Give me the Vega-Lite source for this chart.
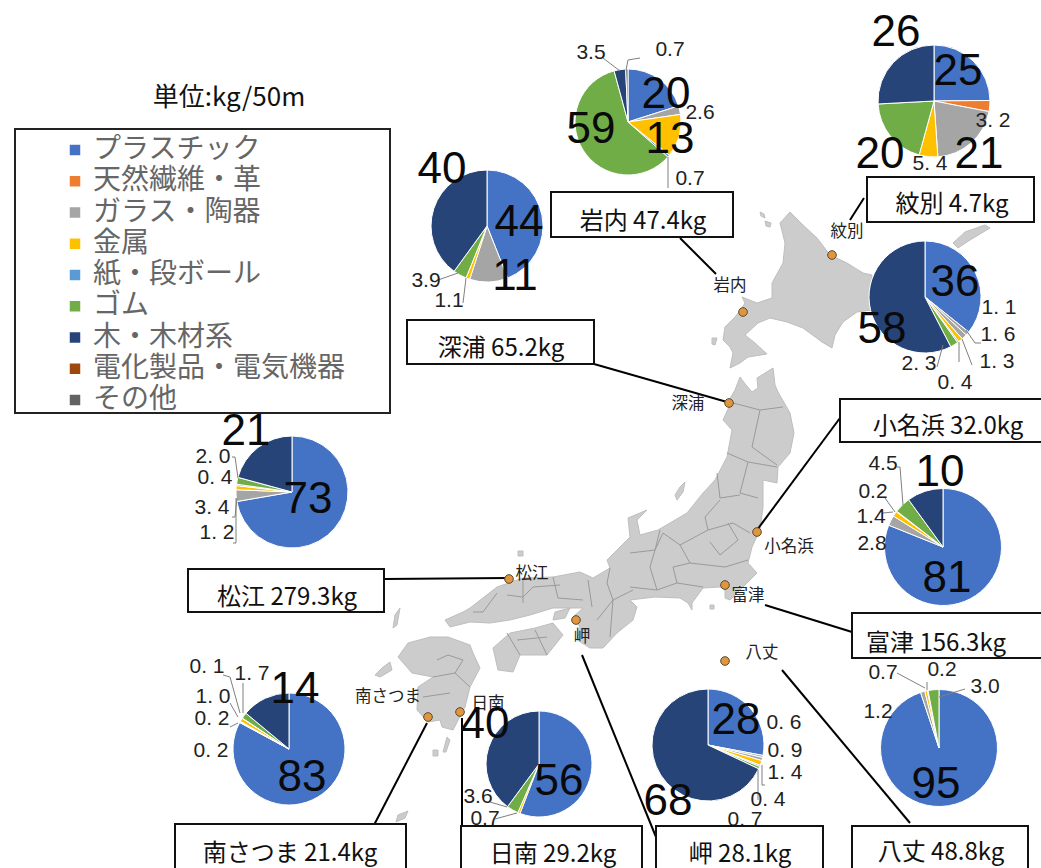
{
"$schema":"https://vega.github.io/schema/vega-lite/v6.json",
"width":1041,"height":868,"padding":0,"autosize":{"type":"none"},"background":"white",
"config":{"view":{"stroke":null},"font":"Noto Sans CJK JP"},
"datasets":{
"sites":[
{"site":"紋別","kg":4.7,"mapX":934,"mapY":101},
{"site":"岩内","kg":47.4,"mapX":628,"mapY":122},
{"site":"深浦","kg":65.2,"mapX":487,"mapY":226},
{"site":"小名浜","kg":32.0,"mapX":925,"mapY":297},
{"site":"富津","kg":156.3,"mapX":943,"mapY":547},
{"site":"松江","kg":279.3,"mapX":292,"mapY":492},
{"site":"南さつま","kg":21.4,"mapX":289,"mapY":749},
{"site":"日南","kg":29.2,"mapX":539,"mapY":764},
{"site":"岬","kg":28.1,"mapX":708,"mapY":745},
{"site":"八丈","kg":48.8,"mapX":939,"mapY":748}
],
"slices":[
{"site":"紋別","cat":"プラスチック","o":1,"v":25},{"site":"紋別","cat":"天然繊維・革","o":2,"v":3.2},{"site":"紋別","cat":"ガラス・陶器","o":3,"v":21},{"site":"紋別","cat":"金属","o":4,"v":5.4},{"site":"紋別","cat":"ゴム","o":6,"v":20},{"site":"紋別","cat":"木・木材系","o":7,"v":26},
{"site":"岩内","cat":"プラスチック","o":1,"v":20},{"site":"岩内","cat":"ガラス・陶器","o":3,"v":2.6},{"site":"岩内","cat":"金属","o":4,"v":13},{"site":"岩内","cat":"紙・段ボール","o":5,"v":0.7},{"site":"岩内","cat":"ゴム","o":6,"v":59},{"site":"岩内","cat":"木・木材系","o":7,"v":3.5},{"site":"岩内","cat":"その他","o":9,"v":0.7},
{"site":"深浦","cat":"プラスチック","o":1,"v":44},{"site":"深浦","cat":"ガラス・陶器","o":3,"v":11},{"site":"深浦","cat":"金属","o":4,"v":1.1},{"site":"深浦","cat":"ゴム","o":6,"v":3.9},{"site":"深浦","cat":"木・木材系","o":7,"v":40},
{"site":"小名浜","cat":"プラスチック","o":1,"v":36},{"site":"小名浜","cat":"ガラス・陶器","o":2,"v":1.1},{"site":"小名浜","cat":"ガラス・陶器","o":3,"v":1.6},{"site":"小名浜","cat":"金属","o":4,"v":1.3},{"site":"小名浜","cat":"紙・段ボール","o":5,"v":0.4},{"site":"小名浜","cat":"ゴム","o":6,"v":2.3},{"site":"小名浜","cat":"木・木材系","o":7,"v":58},
{"site":"富津","cat":"プラスチック","o":1,"v":81},{"site":"富津","cat":"ガラス・陶器","o":3,"v":2.8},{"site":"富津","cat":"金属","o":4,"v":1.4},{"site":"富津","cat":"紙・段ボール","o":5,"v":0.2},{"site":"富津","cat":"ゴム","o":6,"v":4.5},{"site":"富津","cat":"木・木材系","o":7,"v":10},
{"site":"松江","cat":"プラスチック","o":1,"v":73},{"site":"松江","cat":"ガラス・陶器","o":3,"v":3.4},{"site":"松江","cat":"金属","o":4,"v":1.2},{"site":"松江","cat":"紙・段ボール","o":5,"v":0.4},{"site":"松江","cat":"ゴム","o":6,"v":2.0},{"site":"松江","cat":"木・木材系","o":7,"v":21},
{"site":"南さつま","cat":"プラスチック","o":1,"v":83},{"site":"南さつま","cat":"ガラス・陶器","o":2,"v":0.2},{"site":"南さつま","cat":"ガラス・陶器","o":3,"v":0.2},{"site":"南さつま","cat":"金属","o":4,"v":1.0},{"site":"南さつま","cat":"紙・段ボール","o":5,"v":0.1},{"site":"南さつま","cat":"ゴム","o":6,"v":1.7},{"site":"南さつま","cat":"木・木材系","o":7,"v":14},
{"site":"日南","cat":"プラスチック","o":1,"v":56},{"site":"日南","cat":"金属","o":4,"v":0.7},{"site":"日南","cat":"ゴム","o":6,"v":3.6},{"site":"日南","cat":"木・木材系","o":7,"v":40},
{"site":"岬","cat":"プラスチック","o":1,"v":28},{"site":"岬","cat":"ガラス・陶器","o":2,"v":0.6},{"site":"岬","cat":"ガラス・陶器","o":3,"v":0.9},{"site":"岬","cat":"金属","o":4,"v":1.4},{"site":"岬","cat":"紙・段ボール","o":5,"v":0.4},{"site":"岬","cat":"ゴム","o":6,"v":0.7},{"site":"岬","cat":"木・木材系","o":7,"v":68},
{"site":"八丈","cat":"プラスチック","o":1,"v":95},{"site":"八丈","cat":"ガラス・陶器","o":3,"v":1.2},{"site":"八丈","cat":"金属","o":4,"v":0.7},{"site":"八丈","cat":"紙・段ボール","o":5,"v":0.2},{"site":"八丈","cat":"ゴム","o":6,"v":3.0}
],
"bigLabels":[
{"t":"26","mapX":896,"mapY":33},{"t":"25","mapX":958,"mapY":72},{"t":"21","mapX":979,"mapY":155},{"t":"20","mapX":880,"mapY":155},
{"t":"20","mapX":666,"mapY":95},{"t":"13","mapX":670,"mapY":140},{"t":"59","mapX":591,"mapY":130},
{"t":"40","mapX":442,"mapY":170},{"t":"44","mapX":519,"mapY":223},{"t":"11","mapX":515,"mapY":277},
{"t":"36","mapX":955,"mapY":283},{"t":"58","mapX":882,"mapY":330},
{"t":"10","mapX":940,"mapY":473},{"t":"81","mapX":947,"mapY":579},
{"t":"95","mapX":936,"mapY":785},
{"t":"28","mapX":736,"mapY":721},{"t":"68","mapX":668,"mapY":802},
{"t":"40","mapX":485,"mapY":725},{"t":"56","mapX":559,"mapY":782},
{"t":"14","mapX":295,"mapY":690},{"t":"83","mapX":302,"mapY":778},
{"t":"21","mapX":246,"mapY":432},{"t":"73","mapX":308,"mapY":500}
],
"smallLabels":[
{"t":"3. 2","mapX":993,"mapY":121},{"t":"5. 4","mapX":930,"mapY":164},
{"t":"3.5","mapX":591,"mapY":53},{"t":"0.7","mapX":670,"mapY":50},{"t":"2.6","mapX":700,"mapY":113},{"t":"0.7","mapX":690,"mapY":179},
{"t":"3.9","mapX":426,"mapY":281},{"t":"1.1","mapX":449,"mapY":301},
{"t":"1. 1","mapX":999,"mapY":308},{"t":"1. 6","mapX":998,"mapY":335},{"t":"1. 3","mapX":997,"mapY":362},{"t":"0. 4","mapX":955,"mapY":383},{"t":"2. 3","mapX":919,"mapY":364},
{"t":"4.5","mapX":883,"mapY":464},{"t":"0.2","mapX":873,"mapY":492},{"t":"1.4","mapX":871,"mapY":517},{"t":"2.8","mapX":872,"mapY":544},
{"t":"0.7","mapX":883,"mapY":673},{"t":"0.2","mapX":942,"mapY":670},{"t":"3.0","mapX":985,"mapY":687},{"t":"1.2","mapX":878,"mapY":712},
{"t":"0. 6","mapX":784,"mapY":723},{"t":"0. 9","mapX":785,"mapY":751},{"t":"1. 4","mapX":785,"mapY":773},{"t":"0. 4","mapX":768,"mapY":800},{"t":"0. 7","mapX":745,"mapY":820},
{"t":"3.6","mapX":478,"mapY":797},{"t":"0.7","mapX":485,"mapY":819},
{"t":"0. 1","mapX":207,"mapY":667},{"t":"1. 7","mapX":252,"mapY":674},{"t":"1. 0","mapX":213,"mapY":697},{"t":"0. 2","mapX":212,"mapY":719},{"t":"0. 2","mapX":211,"mapY":751},
{"t":"2. 0","mapX":213,"mapY":457},{"t":"0. 4","mapX":215,"mapY":478},{"t":"3. 4","mapX":212,"mapY":508},{"t":"1. 2","mapX":217,"mapY":533}
],
"boxes":[
{"t":"紋別 4.7kg","mapX":867,"mapY":177,"mapX2":1034,"mapY2":222,"tx":952,"ty":205},
{"t":"岩内 47.4kg","mapX":551,"mapY":192,"mapX2":733,"mapY2":237,"tx":643,"ty":222},
{"t":"深浦 65.2kg","mapX":407,"mapY":320,"mapX2":594,"mapY2":364,"tx":501,"ty":349},
{"t":"小名浜 32.0kg","mapX":840,"mapY":399,"mapX2":1045,"mapY2":442,"tx":948,"ty":427},
{"t":"富津 156.3kg","mapX":852,"mapY":613,"mapX2":1045,"mapY2":658,"tx":936,"ty":644},
{"t":"松江 279.3kg","mapX":188,"mapY":569,"mapX2":384,"mapY2":612,"tx":287,"ty":598},
{"t":"南さつま 21.4kg","mapX":175,"mapY":824,"mapX2":406,"mapY2":880,"tx":290,"ty":854},
{"t":"日南 29.2kg","mapX":461,"mapY":826,"mapX2":642,"mapY2":880,"tx":553,"ty":855},
{"t":"岬 28.1kg","mapX":656,"mapY":826,"mapX2":823,"mapY2":880,"tx":740,"ty":855},
{"t":"八丈 48.8kg","mapX":852,"mapY":826,"mapX2":1028,"mapY2":880,"tx":941,"ty":853}
],
"leaders":[
{"mapX":864,"mapY":198,"mapX2":850,"mapY2":220},{"mapX":680,"mapY":238,"mapX2":716,"mapY2":274},
{"mapX":594,"mapY":364,"mapX2":727,"mapY2":402},{"mapX":840,"mapY":418,"mapX2":757,"mapY2":530},
{"mapX":765,"mapY":605,"mapX2":852,"mapY2":632},{"mapX":384,"mapY":579,"mapX2":508,"mapY2":578},
{"mapX":582,"mapY":655,"mapX2":656,"mapY2":837},{"mapX":782,"mapY":670,"mapX2":910,"mapY2":823},
{"mapX":427,"mapY":723,"mapX2":373,"mapY2":827},{"mapX":462,"mapY":718,"mapX2":462,"mapY2":826}
],
"thin":[
{"mapX":966,"mapY":330,"mapX2":975,"mapY2":343},{"mapX":975,"mapY":343,"mapX2":981,"mapY2":343},
{"mapX":962,"mapY":339,"mapX2":972,"mapY2":365},{"mapX":959,"mapY":342,"mapX2":959,"mapY2":362},{"mapX":943,"mapY":345,"mapX2":937,"mapY2":367},
{"mapX":603,"mapY":58,"mapX2":620,"mapY2":71},{"mapX":626,"mapY":70,"mapX2":628,"mapY2":60},{"mapX":628,"mapY":60,"mapX2":640,"mapY2":58},{"mapX":668,"mapY":157,"mapX2":668,"mapY2":188},
{"mapX":438,"mapY":280,"mapX2":458,"mapY2":273},{"mapX":463,"mapY":303,"mapX2":466,"mapY2":278},
{"mapX":232,"mapY":457,"mapX2":235,"mapY2":457},{"mapX":235,"mapY":457,"mapX2":238,"mapY2":478},{"mapX":232,"mapY":517,"mapX2":235,"mapY2":517},{"mapX":235,"mapY":517,"mapX2":237,"mapY2":498},{"mapX":233,"mapY":543,"mapX2":236,"mapY2":543},{"mapX":236,"mapY":543,"mapX2":236,"mapY2":498},
{"mapX":897,"mapY":467,"mapX2":900,"mapY2":467},{"mapX":900,"mapY":467,"mapX2":903,"mapY2":505},{"mapX":885,"mapY":498,"mapX2":895,"mapY2":512},{"mapX":883,"mapY":513,"mapX2":893,"mapY2":512},
{"mapX":897,"mapY":673,"mapX2":925,"mapY2":688},{"mapX":927,"mapY":682,"mapX2":927,"mapY2":690},{"mapX":965,"mapY":689,"mapX2":939,"mapY2":697},
{"mapX":762,"mapY":765,"mapX2":762,"mapY2":785},{"mapX":762,"mapY":785,"mapX2":765,"mapY2":785},{"mapX":758,"mapY":770,"mapX2":758,"mapY2":800},
{"mapX":490,"mapY":802,"mapX2":507,"mapY2":807},{"mapX":495,"mapY":819,"mapX2":517,"mapY2":813},
{"mapX":223,"mapY":675,"mapX2":230,"mapY2":677},{"mapX":230,"mapY":677,"mapX2":240,"mapY2":713},{"mapX":243,"mapY":683,"mapX2":243,"mapY2":713},{"mapX":230,"mapY":703,"mapX2":238,"mapY2":717},{"mapX":230,"mapY":727,"mapX2":238,"mapY2":723}
],
"dots":[
{"t":"紋別","mapX":832,"mapY":255,"tx":847,"ty":232},{"t":"岩内","mapX":743,"mapY":312,"tx":730,"ty":286},
{"t":"深浦","mapX":729,"mapY":403,"tx":688,"ty":404},{"t":"小名浜","mapX":757,"mapY":532,"tx":789,"ty":547},
{"t":"富津","mapX":725,"mapY":585,"tx":748,"ty":596},{"t":"松江","mapX":509,"mapY":579,"tx":532,"ty":574},
{"t":"岬","mapX":576,"mapY":620,"tx":582,"ty":637},{"t":"八丈","mapX":725,"mapY":661,"tx":762,"ty":653},
{"t":"南さつま","mapX":428,"mapY":717,"tx":388,"ty":697},{"t":"日南","mapX":460,"mapY":712,"tx":488,"ty":704}
]
},
"layer":[
{"data":{"values":[
{"type":"Feature","properties":{"n":"land"},"geometry":{"type":"MultiPolygon","coordinates":[
[[[742,297],[757,303],[772,298],[772,283],[783,263],[785,243],[780,223],[790,212],[803,225],[817,238],[830,255],[847,263],[863,273],[872,275],[872,310],[857,312],[843,322],[835,335],[832,348],[822,342],[803,328],[787,322],[770,318],[758,323],[745,335],[755,343],[767,354],[748,357],[740,363],[730,368],[733,353],[730,347],[723,340],[725,327],[735,317],[742,308],[745,303],[742,297]]],
[[[728,402],[735,390],[740,377],[746,385],[752,392],[758,388],[757,378],[773,368],[775,385],[778,392],[790,413],[794,433],[790,453],[778,467],[777,483],[763,480],[763,507],[760,530],[752,547],[748,563],[757,573],[743,587],[730,600],[725,598],[725,590],[720,587],[703,588],[692,603],[692,610],[688,603],[680,598],[655,597],[630,600],[637,607],[633,620],[617,633],[603,648],[590,648],[577,640],[580,627],[573,617],[583,608],[570,608],[553,608],[530,615],[510,620],[490,623],[470,622],[450,627],[445,620],[463,612],[470,608],[497,587],[523,578],[553,577],[580,572],[593,578],[610,568],[607,560],[620,547],[630,537],[628,518],[647,510],[637,520],[640,535],[658,530],[687,513],[703,493],[715,480],[727,457],[732,430],[723,420],[729,407],[728,402]]],
[[[493,648],[498,670],[513,672],[520,655],[547,655],[563,635],[553,623],[535,628],[510,633],[493,648]]],
[[[448,637],[470,645],[473,653],[480,668],[470,687],[465,707],[453,730],[442,727],[440,720],[428,722],[417,710],[418,687],[433,677],[412,673],[398,657],[408,643],[430,637],[448,637]]],
[[[953,243],[965,232],[985,225],[990,228],[970,240],[958,248],[953,243]]],
[[[765,221],[771,223],[770,227],[766,226],[765,221]]],
[[[760,212],[764,214],[765,218],[761,216],[760,212]]],
[[[712,338],[717,338],[715,345],[712,344],[712,338]]],
[[[685,482],[683,492],[677,500],[675,495],[680,487],[685,482]]],
[[[518,551],[523,551],[523,556],[518,556],[518,551]]],
[[[400,608],[397,625],[393,628],[395,615],[400,608]]],
[[[390,662],[392,670],[380,677],[375,675],[382,668],[390,662]]],
[[[447,737],[450,740],[446,752],[443,752],[447,737]]],
[[[433,750],[438,750],[438,756],[433,756],[433,750]]],
[[[398,815],[408,811],[405,818],[396,822],[398,815]]],
[[[555,612],[570,608],[565,618],[553,620],[555,612]]],
[[[710,605],[714,605],[714,609],[710,609],[710,605]]]
]}}
]},
"mark":{"type":"geoshape","fill":"#CCCCCC","stroke":"#BEBEBE","strokeWidth":1},
"projection":{"type":"identity","scale":1,"translate":[0,0]}},
{"data":{"values":[
{"type":"Feature","properties":{"n":"borders"},"geometry":{"type":"MultiLineString","coordinates":[
[[733,403],[760,410],[783,407]],[[760,410],[752,447],[777,465]],[[727,453],[748,462],[777,467]],[[748,462],[740,493],[758,498]],[[717,473],[720,498],[740,495]],[[720,500],[705,517],[708,530],[733,523],[750,533]],[[708,530],[680,545],[690,563],[725,567],[748,560]],[[728,523],[738,540],[720,555],[710,542]],[[660,530],[655,550],[650,567],[657,590]],[[680,545],[663,533],[655,550],[630,553]],[[690,563],[673,567],[677,583],[657,590],[630,587]],[[677,583],[703,587]],
[[553,577],[558,598],[583,600]],[[523,578],[523,603]],[[497,593],[483,612],[473,612]],[[560,585],[533,587],[523,597],[507,595]],[[588,580],[592,607]],[[610,568],[607,583],[613,600],[633,590]],[[597,620],[613,600],[610,637]],
[[507,633],[520,655]],[[535,630],[547,655]],[[517,640],[547,637]],
[[448,655],[463,660],[455,673],[470,687]],[[433,677],[455,673]],[[437,660],[448,655]],[[450,693],[423,697]]
]}}
]},
"mark":{"type":"geoshape","filled":false,"stroke":"#9A9A9A","strokeWidth":1},
"projection":{"type":"identity","scale":1,"translate":[0,0]}},
{
"encoding":{
"x":{"field":"mapX","type":"quantitative","scale":{"domain":[0,1041],"range":[0,1041],"nice":false,"zero":false},"axis":null},
"y":{"field":"mapY","type":"quantitative","scale":{"domain":[0,868],"range":[0,868],"nice":false,"zero":false},"axis":null}
},
"layer":[
{"data":{"name":"leaders"},"mark":{"type":"rule","color":"black","strokeWidth":2},"encoding":{"x2":{"field":"mapX2"},"y2":{"field":"mapY2"}}},
{"data":{"name":"dots"},"mark":{"type":"point","filled":true,"fill":"#E2953F","stroke":"#5A4A2A","strokeWidth":1,"size":75,"opacity":1}},
{"data":{"name":"dots"},"mark":{"type":"text","fontSize":16.5,"color":"#222"},"encoding":{"x":{"field":"tx","type":"quantitative"},"y":{"field":"ty","type":"quantitative"},"text":{"field":"t"}}},
{"data":{"values":[{"mapX":15,"mapY":129,"mapX2":390,"mapY2":413}]},"mark":{"type":"rect","fill":"white","stroke":"#222","strokeWidth":2},"encoding":{"x2":{"field":"mapX2"},"y2":{"field":"mapY2"}}},
{"data":{"values":[{"t":"単位:kg/50m","mapX":229,"mapY":98}]},"mark":{"type":"text","fontSize":26,"color":"#111"},"encoding":{"text":{"field":"t"}}},
{"data":{"name":"slices"},
"transform":[{"filter":{"field":"site","oneOf":["岩内","日南"]}},{"stack":"v","groupby":["site"],"sort":[{"field":"o","order":"ascending"}],"offset":"normalize","as":["t0","t1"]},{"lookup":"site","from":{"data":{"name":"sites"},"key":"site","fields":["mapX","mapY"]}}],
"mark":{"type":"arc","outerRadius":53,"stroke":"white","strokeWidth":1},
"encoding":{"theta":{"field":"t0","type":"quantitative","scale":{"domain":[0,1],"range":[0,6.28319]}},"theta2":{"field":"t1"},
"color":{"field":"cat","type":"nominal","scale":{"domain":["プラスチック","天然繊維・革","ガラス・陶器","金属","紙・段ボール","ゴム","木・木材系","電化製品・電気機器","その他"],"range":["#4472C4","#ED7D31","#A5A5A5","#FFC000","#5B9BD5","#70AD47","#264478","#9E480E","#636363"]},
"legend":{"orient":"none","legendX":61,"legendY":136,"title":null,"symbolType":"square","symbolSize":110,"symbolStrokeWidth":0,"labelFontSize":28,"labelColor":"#666","labelFont":"Noto Sans CJK JP","rowPadding":3.25,"labelOffset":4,"labelLimit":300}}}},
{"data":{"name":"slices"},
"transform":[{"filter":{"field":"site","oneOf":["紋別","深浦","小名浜","松江","南さつま","岬"]}},{"stack":"v","groupby":["site"],"sort":[{"field":"o","order":"ascending"}],"offset":"normalize","as":["t0","t1"]},{"lookup":"site","from":{"data":{"name":"sites"},"key":"site","fields":["mapX","mapY"]}}],
"mark":{"type":"arc","outerRadius":56,"stroke":"white","strokeWidth":1},
"encoding":{"theta":{"field":"t0","type":"quantitative","scale":{"domain":[0,1],"range":[0,6.28319]}},"theta2":{"field":"t1"},"color":{"field":"cat","type":"nominal"}}},
{"data":{"name":"slices"},
"transform":[{"filter":{"field":"site","oneOf":["富津","八丈"]}},{"stack":"v","groupby":["site"],"sort":[{"field":"o","order":"ascending"}],"offset":"normalize","as":["t0","t1"]},{"lookup":"site","from":{"data":{"name":"sites"},"key":"site","fields":["mapX","mapY"]}}],
"mark":{"type":"arc","outerRadius":58.5,"stroke":"white","strokeWidth":1},
"encoding":{"theta":{"field":"t0","type":"quantitative","scale":{"domain":[0,1],"range":[0,6.28319]}},"theta2":{"field":"t1"},"color":{"field":"cat","type":"nominal"}}},
{"data":{"name":"thin"},"mark":{"type":"rule","color":"#7F7F7F","strokeWidth":1},"encoding":{"x2":{"field":"mapX2"},"y2":{"field":"mapY2"}}},
{"data":{"name":"bigLabels"},"mark":{"type":"text","font":"Liberation Sans","fontSize":44,"color":"#0A0A0A"},"encoding":{"text":{"field":"t"}}},
{"data":{"name":"smallLabels"},"mark":{"type":"text","font":"Liberation Sans","fontSize":21,"color":"#222"},"encoding":{"text":{"field":"t"}}},
{"data":{"name":"boxes"},"mark":{"type":"rect","fill":"white","stroke":"#111","strokeWidth":2,"clip":true},"encoding":{"x2":{"field":"mapX2"},"y2":{"field":"mapY2"}}},
{"data":{"name":"boxes"},"mark":{"type":"text","fontSize":24,"color":"#111"},"encoding":{"x":{"field":"tx","type":"quantitative"},"y":{"field":"ty","type":"quantitative"},"text":{"field":"t"}}}
]}
]
}
